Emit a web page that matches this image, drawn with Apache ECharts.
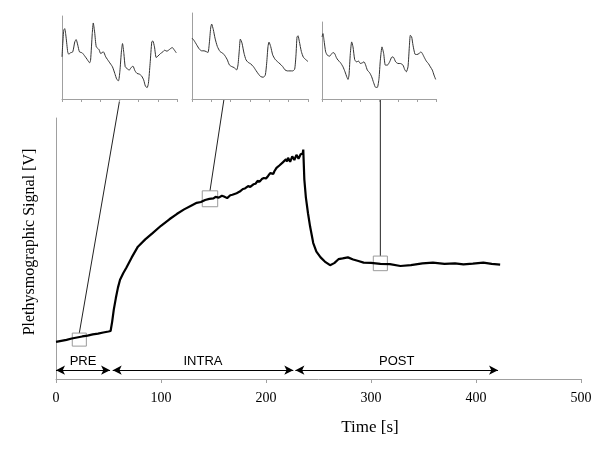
<!DOCTYPE html>
<html>
<head>
<meta charset="utf-8">
<script src="https://cdn.jsdelivr.net/npm/echarts@6.0.0/dist/echarts.min.js"></script>
<style>
  html, body { margin: 0; padding: 0; background: #fff; }
  #chart { width: 600px; height: 450px; }
</style>
</head>
<body>
<div id="chart"></div>
<script>
// main trace: time in seconds, signal in arbitrary volts
const timeS = [0, 5, 10, 15, 20, 25, 30, 35, 40, 45, 50, 52, 53.5, 55, 57, 59, 61, 64, 67, 72,
  78, 85, 92, 100, 108, 115, 122, 130, 134, 138, 142, 146, 150, 152, 155, 158, 160, 163, 166, 168,
  172, 175, 178, 180, 183, 185, 188, 190, 192, 194, 196, 198, 200, 202, 204, 205, 207, 208, 210, 211,
  213, 214, 216, 217, 219, 220, 221, 222, 223, 224, 225, 226, 227, 228, 229, 230, 231, 232, 233, 234,
  235, 235.5, 236.5, 238, 240, 242, 245, 248, 252, 256, 261, 265, 269, 273, 278, 283, 288, 293, 300, 309,
  318, 328, 338, 349, 359, 370, 380, 388, 397, 407, 415, 423];
const signalV = [14.2, 14.6, 15.0, 15.5, 15.9, 16.3, 16.6, 17.1, 17.4, 17.8, 18.2, 18.4, 22, 26.5, 31, 35, 38, 40.5, 42.6, 46.5,
  50.7, 53.5, 55.9, 58.7, 61.2, 63.2, 65.0, 66.7, 67.5, 67.8, 68.6, 69.0, 69.2, 69.8, 69.5, 70.2, 69.9, 69.3, 70.4, 70.6,
  71.2, 71.8, 72.8, 73.0, 73.9, 73.6, 74.6, 74.8, 75.9, 75.6, 76.6, 77.0, 76.8, 77.8, 78.9, 79.0, 78.6, 79.6, 80.9, 80.8,
  81.9, 81.6, 83.0, 82.5, 84.2, 83.3, 84.8, 84.5, 83.2, 83.6, 85.3, 85.0, 83.9, 84.2, 85.9, 85.6, 84.4, 84.8, 86.1, 85.6,
  86.4, 87.9, 76.5, 69.5, 63.5, 58.4, 52.1, 48.8, 46.6, 45.0, 43.6, 44.4, 45.9, 46.2, 46.6, 45.8, 45.2, 44.6, 44.5, 44.1,
  44.0, 43.3, 43.6, 44.3, 44.6, 44.1, 44.3, 43.9, 44.2, 44.6, 44.1, 43.8];

// protocol phases (arrows under the trace)
const phaseNames = ['PRE', 'INTRA', 'POST'];
const phaseStart = [0, 54, 228];
const phaseEnd = [51.5, 226, 421];
const phaseLevel = 3.4;

// zoom windows on the main trace
const zoomT0 = [15.5, 139.3, 302.2];
const zoomT1 = [28.9, 154, 315.6];
const zoomV0 = [12.6, 66.0, 41.5];
const zoomV1 = [17.6, 72.1, 47.1];
// where each connector leaves the inset's x axis
const insetLinkX = [172, 96, 175];

// inset traces (sample index, arbitrary amplitude)
const insetOneX = [0, 5, 8, 12, 17, 20, 25, 32, 38, 42, 47, 52, 60, 68, 75, 82, 85, 90, 93, 97,
  102, 110, 115, 123, 130, 140, 150, 157, 163, 168, 172, 177, 180, 184, 188, 193, 200, 205, 211, 217,
  223, 230, 237, 243, 248, 253, 257, 262, 267, 270, 275, 280, 285, 293, 300, 305, 312, 317, 323, 328, 333, 340];
const insetOneY = [127, 207, 212, 187, 142, 135, 139, 142, 172, 179, 162, 142, 139, 129, 119, 109, 117, 197, 229, 202,
  157, 149, 137, 142, 127, 112, 97, 77, 59, 55, 82, 147, 167, 137, 97, 92, 87, 94, 99, 85,
  77, 75, 69, 57, 39, 34, 47, 107, 172, 175, 157, 125, 129, 137, 142, 147, 144, 147, 152, 155, 149, 139];

const insetTwoX = [0, 6, 14, 22, 29, 36, 42, 48, 52, 56, 59, 64, 69, 76, 84, 92, 99, 106, 112, 119,
  126, 134, 138, 142, 145, 150, 156, 162, 169, 176, 184, 192, 199, 206, 214, 220, 224, 228, 231, 236,
  242, 249, 256, 264, 272, 279, 286, 294, 302, 308, 312, 315, 318, 322, 328, 334, 342, 348];
const insetTwoY = [182, 175, 162, 149, 144, 144, 142, 139, 167, 212, 224, 207, 182, 157, 142, 137, 129, 117, 102, 97,
  94, 87, 102, 147, 179, 167, 137, 117, 109, 105, 97, 85, 75, 67, 65, 72, 107, 157, 170, 157,
  132, 119, 112, 105, 97, 87, 84, 84, 84, 89, 132, 185, 189, 172, 142, 125, 117, 112];

const insetThreeX = [0, 3, 6, 11, 16, 23, 28, 33, 38, 43, 48, 55, 63, 69, 75, 78, 81, 85, 89, 93,
  98, 103, 110, 115, 121, 126, 131, 136, 143, 149, 155, 161, 166, 171, 175, 180, 185, 190, 196, 203,
  210, 215, 221, 228, 235, 243, 248, 253, 258, 262, 265, 269, 273, 279, 285, 291, 297, 301, 307, 313,
  319, 325, 331, 336, 341];
const insetThreeY = [187, 197, 177, 142, 132, 129, 135, 140, 137, 125, 117, 110, 97, 82, 65, 59, 72, 137, 172, 157,
  119, 112, 114, 107, 109, 112, 102, 87, 79, 67, 49, 35, 35, 62, 117, 157, 137, 102, 102, 112,
  127, 125, 112, 107, 107, 102, 89, 82, 97, 157, 192, 187, 162, 135, 134, 137, 142, 137, 125, 114,
  107, 97, 87, 72, 59];

const insetXMax = [342, 348, 342];
const insetYMax = [250, 257, 232];

const zip = (xs, ys) => xs.map((x, i) => [x, ys[i]]);
const insetData = [zip(insetOneX, insetOneY), zip(insetTwoX, insetTwoY), zip(insetThreeX, insetThreeY)];

const axisGray = '#a0a0a0';
const serif = '"Liberation Serif", "Times New Roman", serif';

const chart = echarts.init(document.getElementById('chart'));

const grids = [
  {left: 56, right: 19, top: 118, bottom: 71},
  {left: 62, top: 16, width: 115, height: 83},
  {left: 192, top: 13, width: 116, height: 86},
  {left: 322, top: 22, width: 114, height: 77}
];

const xAxes = [{
  type: 'value', gridIndex: 0, min: 0, max: 500, interval: 100,
  axisLine: {lineStyle: {color: axisGray, width: 1}},
  axisTick: {length: 4, lineStyle: {color: axisGray}},
  axisLabel: {color: '#000', fontFamily: serif, fontSize: 14, margin: 12},
  splitLine: {show: false}
}];
const yAxes = [{
  type: 'value', gridIndex: 0, min: 0, max: 100,
  axisLine: {show: true, lineStyle: {color: axisGray, width: 1}},
  axisTick: {show: false}, axisLabel: {show: false}, splitLine: {show: false}
}];
for (let i = 0; i < 3; i++) {
  xAxes.push({
    type: 'value', gridIndex: i + 1, min: 0, max: insetXMax[i], interval: insetXMax[i] / 6,
    axisLine: {lineStyle: {color: axisGray, width: 1}},
    axisTick: {length: 3, lineStyle: {color: axisGray}},
    axisLabel: {show: false}, splitLine: {show: false}
  });
  yAxes.push({
    type: 'value', gridIndex: i + 1, min: 0, max: insetYMax[i],
    axisLine: {show: true, lineStyle: {color: axisGray, width: 1}},
    axisTick: {show: false}, axisLabel: {show: false}, splitLine: {show: false}
  });
}

const series = [{
  type: 'line', xAxisIndex: 0, yAxisIndex: 0,
  data: zip(timeS, signalV),
  symbol: 'none',
  lineStyle: {color: '#000', width: 2.2},
  z: 3,
  markArea: {
    silent: true,
    itemStyle: {color: 'rgba(0,0,0,0)', borderColor: '#9a9a9a', borderWidth: 1},
    data: zoomT0.map((t, i) => [{xAxis: t, yAxis: zoomV0[i]}, {xAxis: zoomT1[i], yAxis: zoomV1[i]}])
  },
  markLine: {
    silent: true,
    symbol: ['arrow', 'arrow'],
    symbolSize: [7, 9],
    lineStyle: {color: '#000', width: 1, type: 'solid'},
    label: {
      show: true, position: 'insideMiddleTop', distance: 2,
      color: '#000', fontFamily: '"Liberation Sans", Arial, sans-serif', fontSize: 13,
      formatter: p => p.name
    },
    data: phaseNames.map((n, i) => [
      {name: n, coord: [phaseStart[i], phaseLevel]},
      {coord: [phaseEnd[i], phaseLevel]}
    ])
  }
}];
for (let i = 0; i < 3; i++) {
  series.push({
    type: 'line', xAxisIndex: i + 1, yAxisIndex: i + 1,
    data: insetData[i], symbol: 'none', smooth: 0.2,
    lineStyle: {color: '#333', width: 1}
  });
}

chart.setOption({
  animation: false,
  backgroundColor: '#fff',
  grid: grids,
  xAxis: xAxes,
  yAxis: yAxes,
  series: series,
  graphic: [
    {
      id: 'yname', type: 'text', x: 30, y: 242, rotation: Math.PI / 2,
      style: {text: 'Plethysmographic Signal [V]', font: '16px ' + serif, fill: '#000',
        align: 'center', verticalAlign: 'middle'}
    },
    {
      id: 'xname', type: 'text', x: 370, y: 428,
      style: {text: 'Time [s]', font: '17px ' + serif, fill: '#000',
        align: 'center', verticalAlign: 'middle'}
    }
  ]
});

// connector lines from each inset down to its zoom window
const links = [];
for (let i = 0; i < 3; i++) {
  const a = chart.convertToPixel({gridIndex: i + 1}, [insetLinkX[i], 0]);
  const b = chart.convertToPixel({gridIndex: 0}, [(zoomT0[i] + zoomT1[i]) / 2, zoomV1[i]]);
  links.push({
    id: 'link' + i, type: 'line', silent: true,
    shape: {x1: a[0], y1: a[1], x2: b[0], y2: b[1]},
    style: {stroke: '#222', lineWidth: 1}
  });
}
chart.setOption({graphic: links});
</script>
</body>
</html>
